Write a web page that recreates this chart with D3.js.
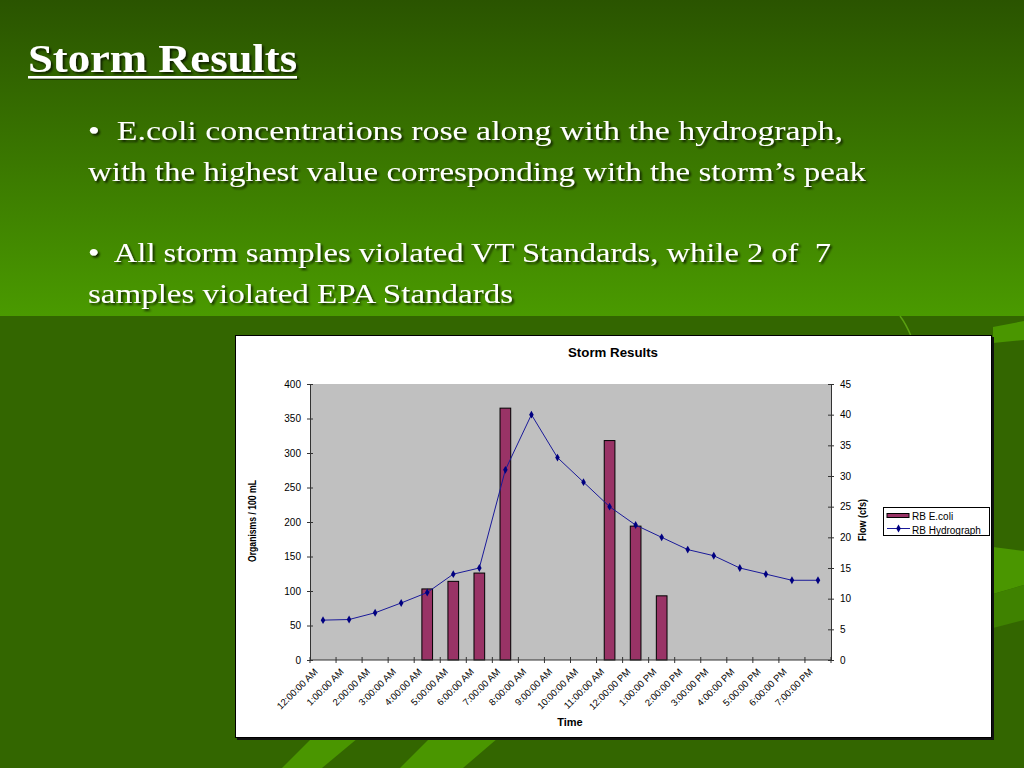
<!DOCTYPE html>
<html>
<head>
<meta charset="utf-8">
<script src="https://cdn.jsdelivr.net/npm/d3@7"></script>
<style>
  body { margin: 0; background: #336600; }
  svg { display: block; }
</style>
</head>
<body>
<div id="slide"></div>
<script>
// chart data
const times = ["12:00:00 AM", "1:00:00 AM", "2:00:00 AM", "3:00:00 AM", "4:00:00 AM",
  "5:00:00 AM", "6:00:00 AM", "7:00:00 AM", "8:00:00 AM", "9:00:00 AM", "10:00:00 AM",
  "11:00:00 AM", "12:00:00 PM", "1:00:00 PM", "2:00:00 PM", "3:00:00 PM", "4:00:00 PM",
  "5:00:00 PM", "6:00:00 PM", "7:00:00 PM"];
const ecoli = [null, null, null, null, 103, 114, 126, 365, null, null, null,
  318, 194, 93, null, null, null, null, null, null];
const flow = [6.5, 6.6, 7.7, 9.3, 11, 14, 15, 31, 40, 33, 29, 25, 22, 20, 18, 17, 15, 14, 13, 13];
const leftTicks = [0, 50, 100, 150, 200, 250, 300, 350, 400];
const rightTicks = [0, 5, 10, 15, 20, 25, 30, 35, 40, 45];
const bullets = [
  "\u2022  E.coli concentrations rose along with the hydrograph,",
  "with the highest value corresponding with the storm\u2019s peak",
  "\u2022  All storm samples violated VT Standards, while 2 of  7",
  "samples violated EPA Standards"
];

const W = 1024, H = 768;
const svg = d3.select("#slide").append("svg")
  .attr("width", W).attr("height", H);

const defs = svg.append("defs");
const grad = defs.append("linearGradient").attr("id", "topGrad")
  .attr("x1", 0).attr("y1", 0).attr("x2", 0).attr("y2", 1);
grad.append("stop").attr("offset", "0%").attr("stop-color", "#2a5400");
grad.append("stop").attr("offset", "100%").attr("stop-color", "#4a9a00");
const shadow = defs.append("filter").attr("id", "txtShadow")
  .attr("x", "-5%").attr("y", "-20%").attr("width", "110%").attr("height", "150%");
shadow.append("feDropShadow").attr("dx", 2).attr("dy", 2)
  .attr("stdDeviation", 0.8).attr("flood-color", "#000").attr("flood-opacity", 0.7);

// slide background
svg.append("rect").attr("width", W).attr("height", 316).attr("fill", "url(#topGrad)");
svg.append("rect").attr("y", 316).attr("width", W).attr("height", H - 316).attr("fill", "#336600");

// decorative stripes
const deco = [
  { pts: [[282, 768], [322, 768], [358, 738], [312, 738]], c: "#4a9600" },
  { pts: [[400, 768], [463, 768], [498, 738], [430, 738]], c: "#4a9600" },
  { pts: [[993, 327], [1024, 321], [1024, 340], [993, 343]], c: "#4a9600" },
  { pts: [[993, 547], [1024, 551], [1024, 585], [993, 594]], c: "#4a9600" },
  { pts: [[993, 594], [1024, 585], [1024, 620], [993, 628]], c: "#3f8200" }
];
svg.selectAll(".deco").data(deco).enter().append("polygon")
  .attr("points", d => d.pts.map(p => p.join(",")).join(" "))
  .attr("fill", d => d.c);
svg.append("path").attr("d", "M900,316 Q906,324 911,336")
  .attr("fill", "none").attr("stroke", "#5aa010").attr("stroke-width", 1.5);

// slide title and bullets
svg.append("text").attr("x", 28).attr("y", 72)
  .attr("font-family", "Liberation Serif, serif").attr("font-weight", "bold")
  .attr("font-size", 40).attr("fill", "#fff")
  .attr("textLength", 269).attr("lengthAdjust", "spacingAndGlyphs")
  .attr("filter", "url(#txtShadow)").text("Storm Results");
svg.append("rect").attr("x", 28).attr("y", 76).attr("width", 269).attr("height", 2.5)
  .attr("fill", "#fff").attr("filter", "url(#txtShadow)");

const bulletY = [140, 181, 262, 303];
const bulletW = [755, 778, 743, 425];
svg.selectAll(".bullet").data(bullets).enter().append("text")
  .attr("x", 88).attr("y", (d, i) => bulletY[i])
  .attr("font-family", "Liberation Serif, serif").attr("font-size", 28)
  .attr("fill", "#fff").attr("filter", "url(#txtShadow)")
  .attr("textLength", (d, i) => bulletW[i]).attr("lengthAdjust", "spacingAndGlyphs")
  .attr("xml:space", "preserve")
  .text(d => d);

// chart box
svg.append("rect").attr("x", 237).attr("y", 337).attr("width", 757).attr("height", 403)
  .attr("fill", "#111");
svg.append("rect").attr("x", 235.5).attr("y", 335.5).attr("width", 756).attr("height", 402)
  .attr("fill", "#fff").attr("stroke", "#000").attr("stroke-width", 1);

const plot = { left: 310, right: 831, top: 384, bottom: 660 };
const font = "Liberation Sans, Arial, sans-serif";

svg.append("text").attr("x", 613).attr("y", 357).attr("text-anchor", "middle")
  .attr("font-family", font).attr("font-weight", "bold").attr("font-size", 12)
  .attr("textLength", 90).attr("lengthAdjust", "spacingAndGlyphs")
  .text("Storm Results");

svg.append("rect").attr("x", plot.left).attr("y", plot.top)
  .attr("width", plot.right - plot.left).attr("height", plot.bottom - plot.top)
  .attr("fill", "#c0c0c0");

// scales
const x = d3.scaleBand().domain(times).range([plot.left, plot.right]).padding(0);
const yL = d3.scaleLinear().domain([0, 400]).range([plot.bottom, plot.top]);
const yR = d3.scaleLinear().domain([0, 45]).range([plot.bottom, plot.top]);
const barW = x.bandwidth() * 0.41;

// bars
svg.selectAll(".bar").data(times.map((t, i) => ({ t, v: ecoli[i] })).filter(d => d.v != null))
  .enter().append("rect")
  .attr("class", "bar")
  .attr("x", d => x(d.t) + x.bandwidth() / 2 - barW / 2)
  .attr("y", d => yL(d.v))
  .attr("width", barW)
  .attr("height", d => yL(0) - yL(d.v))
  .attr("fill", "#993366").attr("stroke", "#000").attr("stroke-width", 1);

// hydrograph line
const line = d3.line()
  .x((d, i) => x(times[i]) + x.bandwidth() / 2)
  .y(d => yR(d));
svg.append("path").datum(flow)
  .attr("d", line).attr("fill", "none")
  .attr("stroke", "#1a1a99").attr("stroke-width", 1);
const diamond = d3.symbol().type(d3.symbolDiamond).size(18);
svg.selectAll(".dot").data(flow).enter().append("path")
  .attr("d", diamond)
  .attr("transform", (d, i) => "translate(" + (x(times[i]) + x.bandwidth() / 2) + "," + yR(d) + ")")
  .attr("fill", "#000080");

// axes
const axisStyle = g => {
  g.select(".domain").attr("stroke", "#333");
  g.selectAll(".tick line").attr("stroke", "#333");
  g.selectAll(".tick text").attr("font-family", font).attr("font-size", 10).attr("fill", "#000");
};
const gL = svg.append("g").attr("transform", "translate(" + plot.left + ",0)")
  .call(d3.axisLeft(yL).tickValues(leftTicks).tickSizeOuter(0).tickSize(3).tickPadding(6))
  .call(axisStyle);
gL.selectAll(".tick line").attr("x1", 3);

const gR = svg.append("g").attr("transform", "translate(" + plot.right + ",0)")
  .call(d3.axisRight(yR).tickValues(rightTicks).tickSizeOuter(0).tickSize(3).tickPadding(6))
  .call(axisStyle);
gR.selectAll(".tick line").attr("x1", -3);

// x axis: ticks on category boundaries, labels at centres
const gX = svg.append("g").attr("transform", "translate(0," + plot.bottom + ")");
gX.append("line").attr("x1", plot.left).attr("x2", plot.right)
  .attr("stroke", "#333");
gX.selectAll(".xt").data(times.concat([null])).enter().append("line")
  .attr("x1", (d, i) => plot.left + i * x.bandwidth())
  .attr("x2", (d, i) => plot.left + i * x.bandwidth())
  .attr("y1", -3).attr("y2", 3).attr("stroke", "#333");
gX.selectAll(".xl").data(times).enter().append("text")
  .attr("transform", d => "translate(" + (x(d) + x.bandwidth() / 2 - 7) + ",10) rotate(-45)")
  .attr("text-anchor", "end").attr("dy", "0.35em")
  .attr("font-family", font).attr("font-size", 9.5)
  .text(d => d);

// axis titles
svg.append("text").attr("x", 570).attr("y", 726).attr("text-anchor", "middle")
  .attr("font-family", font).attr("font-weight", "bold").attr("font-size", 11)
  .text("Time");
const narrow = "Liberation Sans Narrow, Arial Narrow, sans-serif";
svg.append("text").attr("transform", "translate(256,521) rotate(-90)")
  .attr("text-anchor", "middle").attr("font-family", narrow).attr("font-weight", "bold")
  .attr("font-size", 10.5).attr("textLength", 82).attr("lengthAdjust", "spacingAndGlyphs")
  .text("Organisms / 100 mL");
svg.append("text").attr("transform", "translate(866,520) rotate(-90)")
  .attr("text-anchor", "middle").attr("font-family", narrow).attr("font-weight", "bold")
  .attr("font-size", 10.5).attr("textLength", 42).attr("lengthAdjust", "spacingAndGlyphs")
  .text("Flow (cfs)");

// legend
const lg = svg.append("g").attr("transform", "translate(883,507)");
lg.append("rect").attr("x", 0.5).attr("y", 0.5).attr("width", 106).attr("height", 28)
  .attr("fill", "#fff").attr("stroke", "#000");
lg.append("rect").attr("x", 4).attr("y", 6.5).attr("width", 22).attr("height", 4)
  .attr("fill", "#993366").attr("stroke", "#000").attr("stroke-width", 1);
lg.append("line").attr("x1", 4).attr("x2", 27).attr("y1", 21.5).attr("y2", 21.5)
  .attr("stroke", "#1a1a99");
lg.append("path").attr("d", diamond).attr("transform", "translate(15.5,21.5)").attr("fill", "#000080");
lg.selectAll(".lt").data(["RB E.coli", "RB Hydrograph"]).enter().append("text")
  .attr("x", 29).attr("y", (d, i) => 12.5 + i * 14)
  .attr("font-family", font).attr("font-size", 10).text(d => d);
</script>
</body>
</html>
